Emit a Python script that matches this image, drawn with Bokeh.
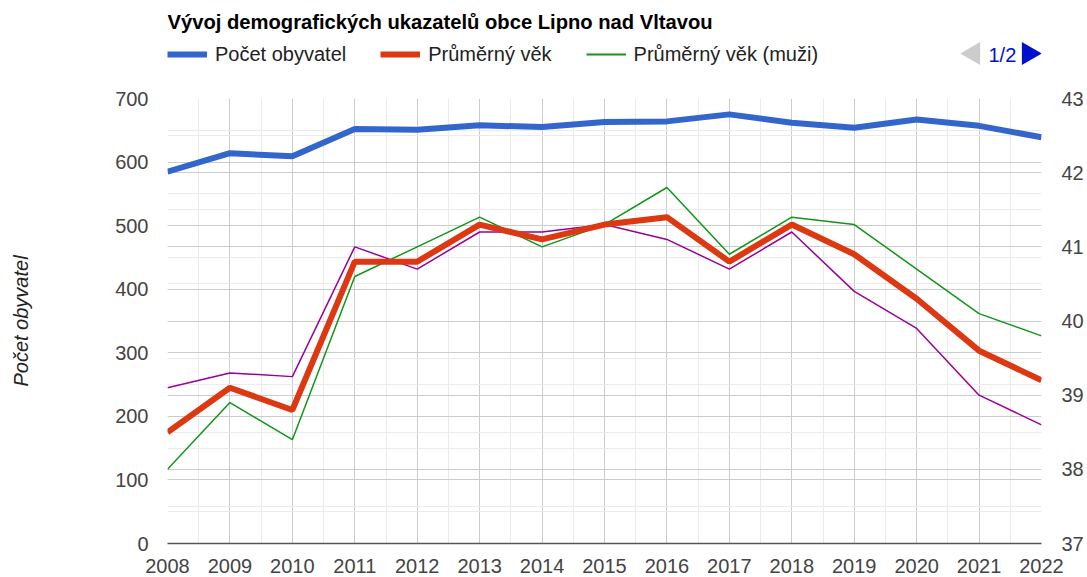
import math
from bokeh.plotting import figure
from bokeh.layouts import column
from bokeh.models import (Range1d, LinearAxis, SingleIntervalTicker, Grid,
                          Legend, LegendItem, Label)
from bokeh.embed import file_html
from bokeh.resources import INLINE

# ---- data ----
years = [2008, 2009, 2010, 2011, 2012, 2013, 2014, 2015, 2016, 2017, 2018, 2019, 2020, 2021, 2022]
population = [585, 614, 609, 652, 651, 658, 655, 663, 664, 675, 662, 654, 667, 657, 639]
avg_age = [38.5, 39.1, 38.8, 40.8, 40.8, 41.3, 41.1, 41.3, 41.4, 40.8, 41.3, 40.9, 40.3, 39.6, 39.2]
avg_age_men = [38.0, 38.9, 38.4, 40.6, 41.0, 41.4, 41.0, 41.3, 41.8, 40.9, 41.4, 41.3, 40.7, 40.1, 39.8]
avg_age_women = [39.1, 39.3, 39.25, 41.0, 40.7, 41.2, 41.2, 41.3, 41.1, 40.7, 41.2, 40.4, 39.9, 39.0, 38.6]

title_text = "Vývoj demografických ukazatelů obce Lipno nad Vltavou"
series_names = ["Počet obyvatel", "Průměrný věk", "Průměrný věk (muži)"]
y_axis_title = "Počet obyvatel"
pager_text = "1/2"

FONT = "Liberation Sans"
W = 1087
HEAD_H = 86
MAIN_H = 577 - HEAD_H
BL, BR = 167, 46          # left / right borders (frames are aligned in the column)

C_POP, C_AGE, C_MEN, C_WOMEN = "#3366cc", "#dc3912", "#109618", "#990099"

# ---------------- header (title, legend, pager) ----------------
# header frame spans the same horizontal extent as the chart frame;
# its range is set so that one unit equals one pixel of the page
head = figure(width=W, height=HEAD_H, output_backend="svg", toolbar_location=None,
              x_range=Range1d(BL, W - BR), y_range=Range1d(HEAD_H, 0),
              x_axis_location=None, y_axis_location=None, min_border=0,
              min_border_left=BL, min_border_right=BR,
              outline_line_color=None, background_fill_color="white",
              border_fill_color="white")
head.grid.visible = False

# legend-only renderers (placed outside the visible header range)
h_pop = head.line(x=[0, 1], y=[500, 500], color=C_POP, line_width=6)
h_age = head.line(x=[0, 1], y=[500, 500], color=C_AGE, line_width=6)
h_men = head.line(x=[0, 1], y=[500, 500], color=C_MEN, line_width=2)

legend = Legend(items=[LegendItem(label=series_names[0], renderers=[h_pop]),
                       LegendItem(label=series_names[1], renderers=[h_age]),
                       LegendItem(label=series_names[2], renderers=[h_men])],
                orientation="horizontal", location=(0, HEAD_H - 65.5),
                glyph_width=40, glyph_height=20, label_standoff=8, spacing=34,
                padding=0, margin=0, border_line_color=None,
                background_fill_alpha=0, label_text_font=FONT,
                label_text_font_size="20px", label_text_color="#222222",
                label_text_baseline="middle")
head.add_layout(legend, "center")

head.add_layout(Label(x=167, y=21.5, text=title_text, text_font=FONT,
                      text_font_size="20.2px", text_font_style="bold",
                      text_color="#000000", text_baseline="middle"))
head.add_layout(Label(x=988, y=54, text=pager_text, text_font=FONT,
                      text_font_size="20px", text_color="#0011cc",
                      text_baseline="middle"))
head.scatter(x=[973], y=[53], marker="triangle", size=23, angle=math.pi / 2,
             fill_color="#cccccc", line_color=None)
head.scatter(x=[1028], y=[53], marker="triangle", size=23, angle=-math.pi / 2,
             fill_color="#0011cc", line_color=None)

# ---------------- main chart ----------------
p = figure(width=W, height=MAIN_H, output_backend="svg", toolbar_location=None,
           x_range=Range1d(2008, 2022), y_range=Range1d(0, 700),
           min_border_left=BL, min_border_right=BR, min_border_top=12,
           min_border_bottom=34, background_fill_color="white",
           border_fill_color="white", outline_line_color=None)
p.extra_y_ranges = {"age": Range1d(37, 43)}

xt = SingleIntervalTicker(interval=1, num_minor_ticks=2)
yt = SingleIntervalTicker(interval=100, num_minor_ticks=2)
rt = SingleIntervalTicker(interval=1, num_minor_ticks=2)

p.xaxis.ticker = xt
p.yaxis.ticker = yt
right = LinearAxis(y_range_name="age", ticker=rt)
p.add_layout(right, "right")

for ax in [p.xaxis[0], p.yaxis[0], right]:
    ax.major_tick_line_color = None
    ax.minor_tick_line_color = None
    ax.major_label_text_font = FONT
    ax.major_label_text_font_size = "20px"
    ax.major_label_text_color = "#444444"
p.yaxis[0].axis_line_color = None
right.axis_line_color = None
p.xaxis[0].axis_line_color = "#555555"
p.xaxis[0].axis_line_width = 1.5
p.xaxis[0].major_label_standoff = 9
p.yaxis[0].major_label_standoff = 13
right.major_label_standoff = 14

p.yaxis[0].axis_label = y_axis_title
p.yaxis[0].axis_label_text_font = FONT
p.yaxis[0].axis_label_text_font_size = "20px"
p.yaxis[0].axis_label_text_font_style = "italic"
p.yaxis[0].axis_label_text_color = "#222222"
p.yaxis[0].axis_label_standoff = 80

p.xgrid.ticker = xt
p.ygrid.ticker = yt
for g in [p.xgrid[0], p.ygrid[0]]:
    g.grid_line_color = "#cccccc"
    g.minor_grid_line_color = "#ebebeb"
rg = Grid(dimension=1, ticker=rt, y_range_name="age",
          grid_line_color="#cccccc", minor_grid_line_color="#ebebeb")
p.add_layout(rg)

p.line(years, avg_age_women, y_range_name="age", color=C_WOMEN, line_width=1.5)
p.line(years, avg_age_men, y_range_name="age", color=C_MEN, line_width=1.5)
p.line(years, avg_age, y_range_name="age", color=C_AGE, line_width=6)
p.line(years, population, color=C_POP, line_width=6)

layout = column(head, p, spacing=0)
open("out.html", "w").write(file_html(layout, INLINE))
